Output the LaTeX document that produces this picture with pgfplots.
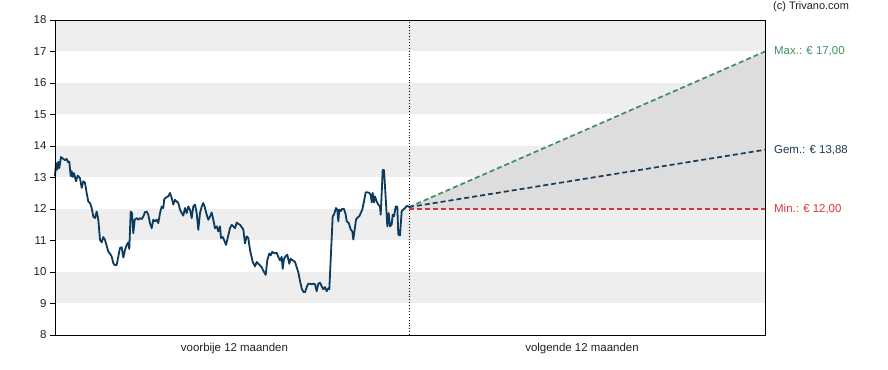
\documentclass[border=0pt]{standalone}
\usepackage{fontspec}
\setmainfont{Liberation Sans}
\usepackage{pgfplots}
\pgfplotsset{compat=1.18}
\definecolor{band}{HTML}{EEEEEE}
\definecolor{area}{HTML}{DDDDDD}
\definecolor{price}{HTML}{0D3B5E}
\definecolor{maxc}{HTML}{3E8E5E}
\definecolor{meanc}{HTML}{1C3A56}
\definecolor{minc}{HTML}{E53238}
\definecolor{tickc}{HTML}{222222}
\begin{document}
\begin{tikzpicture}
\begin{axis}[
  scale only axis, width=710bp, height=315bp,
  xmin=55, xmax=765, ymin=8, ymax=18,
  axis line style={black, line width=0.9bp},
  clip=false,
  ytick={8,9,...,18},
  ytick pos=left, xtick pos=bottom,
  yticklabel style={font=\fontsize{11.5}{13}\selectfont, text=tickc},
  /pgf/number format/assume math mode=true,
  tick align=outside, major tick length=5bp,
  tick style={black, line width=0.8bp},
  xtick={234.5,582},
  xticklabels={voorbije 12 maanden, volgende 12 maanden},
  xticklabel style={font=\fontsize{11.5}{13}\selectfont, text=tickc},
  xtick style={draw=none},
  extra x ticks={409}, extra x tick labels={},
  extra x tick style={tick style={black, line width=0.8bp}, major tick length=5bp},
  axis on top,
]
% background bands
\addplot[fill=band, draw=none] coordinates {(55,9) (765,9) (765,10) (55,10)} --cycle;
\addplot[fill=band, draw=none] coordinates {(55,11) (765,11) (765,12) (55,12)} --cycle;
\addplot[fill=band, draw=none] coordinates {(55,13) (765,13) (765,14) (55,14)} --cycle;
\addplot[fill=band, draw=none] coordinates {(55,15) (765,15) (765,16) (55,16)} --cycle;
\addplot[fill=band, draw=none] coordinates {(55,17) (765,17) (765,18) (55,18)} --cycle;
% forecast area
\addplot[fill=area, draw=none] coordinates {(409,12.06) (765,17) (765,12) (409,12.0)} --cycle;
% divider
\addplot[black, dotted, line width=0.9bp] coordinates {(409,8) (409,18)};
% forecast lines
\addplot[maxc, dashed, dash pattern=on 5bp off 3bp, line width=1.7bp] coordinates {(409,12.06) (765,17)};
\addplot[meanc, dashed, dash pattern=on 5bp off 3bp, line width=1.7bp] coordinates {(409,12.06) (765,13.88)};
\addplot[minc, dashed, dash pattern=on 5bp off 3bp, line width=1.7bp] coordinates {(409,12.0) (765,12.0)};
% price history
\addplot[price, line width=1.8bp, line join=round] coordinates {
(55.0,13.04) (56.0,13.46) (57.3,13.25) (58.3,13.5) (59.3,13.3) (61.0,13.65) (63.3,13.59) (65.0,13.55)
(66.7,13.59) (68.3,13.48) (69.3,13.5) (70.7,13.04) (71.7,13.2) (72.7,13.02) (74.0,13.14) (76.0,12.88)
(77.7,13.06) (80.0,12.98) (81.7,12.67) (83.3,12.88) (85.0,12.83) (86.7,12.5) (88.3,12.24) (90.0,12.19)
(91.7,12.03) (93.3,11.76) (95.0,11.71) (96.7,11.92) (98.3,11.66) (100.0,11.02) (101.7,10.94) (103.3,11.11)
(105.0,11.02) (106.7,10.83) (108.3,10.65) (110.0,10.58) (111.7,10.49) (113.3,10.28) (115.0,10.21) (116.7,10.23)
(118.3,10.49) (120.0,10.76) (121.7,10.79) (123.3,10.46) (125.0,10.70) (126.7,10.86) (128.3,10.94) (129.3,10.73)
(130.7,11.92) (132.0,11.87) (133.3,11.23) (134.7,11.66) (136.7,11.71) (138.3,11.66) (140.0,11.71) (141.7,11.68)
(143.3,11.76) (145.0,11.90) (146.7,11.92) (148.3,11.82) (150.0,11.55) (151.7,11.39) (153.3,11.66) (155.0,11.61)
(156.7,11.66) (158.3,11.55) (160.0,11.87) (161.7,12.08) (163.3,12.03) (164.3,12.32) (166.7,12.38) (168.3,12.40)
(170.0,12.51) (171.7,12.35) (173.3,12.14) (175.0,12.29) (176.7,12.24) (178.3,12.19) (180.0,11.98) (181.7,11.87)
(183.3,11.79) (185.0,12.03) (186.7,11.87) (188.3,12.08) (190.0,11.98) (191.7,11.71) (193.3,12.08) (195.0,12.14)
(196.7,11.87) (198.3,11.34) (200.0,11.87) (201.7,12.08) (203.3,12.19) (205.0,12.03) (206.7,11.82) (208.3,11.66)
(210.0,11.76) (211.7,11.89) (213.3,11.66) (215.0,11.39) (216.7,11.45) (218.3,11.29) (220.0,11.45) (221.0,11.08)
(222.7,11.11) (224.3,11.0) (226.0,10.86) (227.7,11.08) (230.0,11.39) (231.7,11.5) (233.3,11.45) (235.0,11.39)
(236.7,11.57) (238.3,11.53) (240.0,11.5) (243.3,11.35) (245.0,10.91) (246.7,11.13) (248.3,11.08) (250.0,10.70)
(252.7,10.32) (255.0,10.18) (256.7,10.32) (258.3,10.26) (260.0,10.21) (261.7,10.15) (263.3,10.04) (265.7,9.91)
(267.3,10.37) (269.3,10.59) (270.7,10.53) (272.3,10.64) (274.3,10.59) (276.7,10.61) (278.3,10.48) (280.0,10.37)
(281.7,10.48) (282.7,10.10) (284.0,10.42) (285.7,10.50) (287.3,10.55) (289.3,10.26) (290.7,10.42) (292.7,10.37)
(295.0,10.32) (296.7,10.15) (298.3,9.99) (300.0,9.72) (301.7,9.48) (303.3,9.37) (305.0,9.36) (306.7,9.52)
(308.3,9.63) (310.0,9.63) (311.7,9.61) (313.3,9.63) (315.0,9.61) (316.7,9.39) (318.3,9.63) (320.0,9.66)
(321.7,9.55) (323.3,9.45) (325.0,9.52) (326.7,9.39) (328.3,9.48) (329.3,9.45) (331.0,10.6) (332.7,11.77)
(334.0,11.82) (336.0,12.03) (337.3,11.98) (338.3,11.61) (339.3,11.98) (340.7,11.93) (342.0,12.0) (344.0,12.0)
(345.7,11.82) (346.7,11.61) (348.7,11.56) (350.7,11.35) (352.3,11.29) (353.3,11.03) (354.7,11.35) (356.0,11.66)
(357.3,11.72) (359.3,11.77) (360.7,11.87) (362.3,11.98) (364.0,12.24) (365.7,12.53) (367.3,12.53) (369.3,12.51)
(370.7,12.45) (371.7,12.21) (372.7,12.51) (374.0,12.21) (375.0,12.4) (376.7,12.24) (378.3,12.14) (380.0,12.08)
(380.7,11.82) (381.7,12.51) (382.7,13.24) (384.0,13.24) (385.0,12.72) (386.0,12.19) (387.3,11.45) (388.7,11.87)
(390.0,11.45) (391.7,11.51) (392.7,11.82) (394.0,11.77) (395.7,12.08) (397.3,12.08) (398.3,11.19) (400.0,11.16)
(401.7,11.93) (403.3,11.98) (405.0,12.03) (406.7,12.1) (408.3,12.08) (409.0,12.06)
};
% right labels
\node[anchor=west, text=maxc, font=\fontsize{11.5}{13}\selectfont, inner sep=0pt] at (axis cs:774,17) {Max.: € 17,00};
\node[anchor=west, text=meanc, font=\fontsize{11.5}{13}\selectfont, inner sep=0pt] at (axis cs:774,13.88) {Gem.: € 13,88};
\node[anchor=west, text=minc, font=\fontsize{11.5}{13}\selectfont, inner sep=0pt] at (axis cs:774,12.0) {Min.: € 12,00};
\node[anchor=west, text=tickc, font=\fontsize{11}{13}\selectfont, inner sep=0pt] at (axis cs:773,18.41) {(c) Trivano.com};
\end{axis}
\pgfresetboundingbox
\path[use as bounding box] (-55bp,-35bp) rectangle (833bp,335bp);
\end{tikzpicture}
\end{document}
